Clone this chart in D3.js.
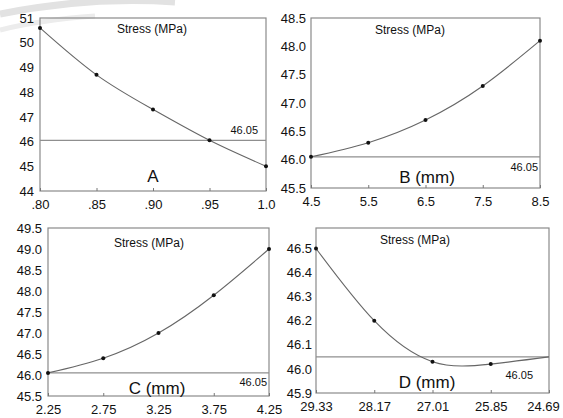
<html>
<head>
<script src="https://d3js.org/d3.v7.min.js"></script>
<style>
  body { margin: 0; background: #fff; }
  text { font-family: "Liberation Sans Narrow", "Liberation Sans", Arial, sans-serif; fill: #111; }
</style>
</head>
<body>
<svg id="chart" width="563" height="418"></svg>
<script>
// panel A
const aX = [0.80, 0.85, 0.90, 0.95, 1.0];
const aY = [50.6, 48.7, 47.3, 46.05, 45.0];
const aXTicks = [".80", ".85", ".90", ".95", "1.0"];
const aYTicks = [44, 45, 46, 47, 48, 49, 50, 51];
// panel B
const bX = [4.5, 5.5, 6.5, 7.5, 8.5];
const bY = [46.05, 46.3, 46.7, 47.3, 48.1];
const bXTicks = ["4.5", "5.5", "6.5", "7.5", "8.5"];
const bYTicks = [45.5, 46.0, 46.5, 47.0, 47.5, 48.0, 48.5];
// panel C
const cX = [2.25, 2.75, 3.25, 3.75, 4.25];
const cY = [46.05, 46.4, 47.0, 47.9, 49.0];
const cXTicks = ["2.25", "2.75", "3.25", "3.75", "4.25"];
const cYTicks = [45.5, 46.0, 46.5, 47.0, 47.5, 48.0, 48.5, 49.0, 49.5];
// panel D (x runs backwards)
const dX = [29.33, 28.17, 27.01, 25.85, 24.69];
const dY = [46.5, 46.2, 46.03, 46.02, 46.05];
const dXTicks = ["29.33", "28.17", "27.01", "25.85", "24.69"];
const dYTicks = [45.9, 46.0, 46.1, 46.2, 46.3, 46.4, 46.5];

const optimum = 46.05;

const svg = d3.select("#chart");

// faint watermark arcs top-left
svg.append("path").attr("d", "M0,14 Q90,-4 175,2").attr("fill", "none")
  .attr("stroke", "#e2e2e2").attr("stroke-width", 7);
svg.append("path").attr("d", "M0,30 Q40,20 95,16").attr("fill", "none")
  .attr("stroke", "#ececec").attr("stroke-width", 5);

function panel(o) {
  let x = d3.scaleLinear().domain(o.xDom).range([o.left, o.right]);
  let y = d3.scaleLinear().domain(o.yDom).range([o.bottom, o.top]);
  let g = svg.append("g");

  // frame
  g.append("rect").attr("x", o.left).attr("y", o.top)
    .attr("width", o.right - o.left).attr("height", o.bottom - o.top)
    .attr("fill", "none").attr("stroke", "#8a8a8a").attr("stroke-width", 1.2);

  // x ticks + labels
  let xAxis = d3.axisBottom(x).tickValues(o.xs).tickSize(-3)
    .tickFormat((d, i) => o.xLabels[i]).tickPadding(9);
  let xa = g.append("g").attr("transform", `translate(0,${o.bottom})`).call(xAxis);
  xa.select(".domain").remove();
  xa.selectAll("line").attr("stroke", "#777");
  xa.selectAll("text").attr("font-size", 13).attr("fill", "#111")
    .attr("font-family", "Liberation Sans Narrow, Liberation Sans, Arial")
    .attr("dx", (d, i) => i == o.xs.length - 1 ? -o.lastShift : 0);

  // y labels
  let yAxis = d3.axisLeft(y).tickValues(o.yTicks).tickSize(0)
    .tickFormat(o.yFmt).tickPadding(o.yPad);
  let ya = g.append("g").attr("transform", `translate(${o.left},0)`).call(yAxis);
  ya.select(".domain").remove();
  ya.selectAll("text").attr("font-size", 13).attr("fill", "#111")
    .attr("font-family", "Liberation Sans Narrow, Liberation Sans, Arial");

  // optimum line
  g.append("line").attr("x1", o.left).attr("x2", o.right)
    .attr("y1", y(optimum)).attr("y2", y(optimum))
    .attr("stroke", "#8f8f8f").attr("stroke-width", 1.3);

  // curve
  let pts = o.xs.map((v, i) => [x(v), y(o.ys[i])]);
  g.append("path").attr("d", d3.line().curve(d3.curveNatural)(pts))
    .attr("fill", "none").attr("stroke", "#666").attr("stroke-width", 1.1);
  g.selectAll(".dot").data(pts.filter((p, i) => o.dots[i])).enter()
    .append("circle").attr("class", "dot")
    .attr("cx", d => d[0]).attr("cy", d => d[1]).attr("r", 2).attr("fill", "#111");

  // texts
  g.append("text").attr("x", o.titleX).attr("y", o.titleY).attr("text-anchor", "middle")
    .attr("font-size", 12).attr("font-family", "Liberation Sans, Arial").text("Stress (MPa)");
  g.append("text").attr("x", o.nameX).attr("y", o.nameY).attr("text-anchor", "middle")
    .attr("font-size", 17).attr("font-family", "Liberation Sans, Arial").text(o.name);
  g.append("text").attr("x", o.valX).attr("y", o.valY).attr("text-anchor", "end")
    .attr("font-size", 11).attr("font-family", "Liberation Sans, Arial").text(optimum.toFixed(2));
}

panel({ xs: aX, ys: aY, xLabels: aXTicks, yTicks: aYTicks, yFmt: d3.format("d"), yPad: 6,
  xDom: [0.80, 1.0], yDom: [44, 51], left: 40, right: 266, top: 18, bottom: 191,
  dots: [1, 1, 1, 1, 1], name: "A", nameX: 153, nameY: 182, titleX: 152, titleY: 33,
  valX: 258, valY: 134, lastShift: 0 });

panel({ xs: bX, ys: bY, xLabels: bXTicks, yTicks: bYTicks, yFmt: d3.format(".1f"), yPad: 5,
  xDom: [4.5, 8.5], yDom: [45.5, 48.5], left: 311, right: 540, top: 18, bottom: 188,
  dots: [1, 1, 1, 1, 1], name: "B (mm)", nameX: 427, nameY: 183, titleX: 410, titleY: 34,
  valX: 538, valY: 171, lastShift: 0 });

panel({ xs: cX, ys: cY, xLabels: cXTicks, yTicks: cYTicks, yFmt: d3.format(".1f"), yPad: 6,
  xDom: [2.25, 4.25], yDom: [45.5, 49.5], left: 48, right: 269, top: 228, bottom: 396,
  dots: [1, 1, 1, 1, 1], name: "C (mm)", nameX: 157, nameY: 394, titleX: 149, titleY: 247,
  valX: 267, valY: 386, lastShift: 0 });

panel({ xs: dX, ys: dY, xLabels: dXTicks, yTicks: dYTicks, yFmt: d3.format(".1f"), yPad: 4,
  xDom: [29.33, 24.69], yDom: [45.9, 46.585], left: 316, right: 549, top: 228, bottom: 393,
  dots: [1, 1, 1, 1, 0], name: "D (mm)", nameX: 427, nameY: 388, titleX: 415, titleY: 244,
  valX: 533, valY: 379, lastShift: 6 });
</script>
</body>
</html>
